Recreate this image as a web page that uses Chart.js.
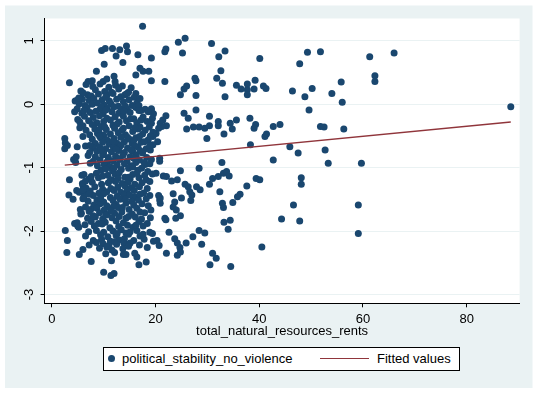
<!DOCTYPE html>
<html>
<head>
<meta charset="utf-8">
<script src="https://cdn.jsdelivr.net/npm/chart.js@4.4.1/dist/chart.umd.min.js"></script>
<style>
  body { margin: 0; background: #fff; }
  #wrap { position: relative; width: 538px; height: 394px; font-family: "Liberation Sans", Arial, sans-serif; }
  #legend { position: absolute; left: 103px; top: 347px; width: 355px; height: 22px; border: 1px solid #000; background: #fff; font-size: 13px; color: #000; }
  #legend span { position: absolute; white-space: nowrap; }
  .dot { left: 4px; top: 7px; width: 7px; height: 7px; border-radius: 50%; background: #1a476f; }
  .lab { top: 0; line-height: 22px; }
  .fit { left: 216px; top: 10px; width: 49px; height: 1.3px; background: #90353b; }
</style>
</head>
<body>
<div id="wrap">
  <canvas id="chart" width="538" height="394"></canvas>
  <div id="legend">
    <span class="dot"></span>
    <span class="lab" style="left:18px">political_stability_no_violence</span>
    <span class="fit"></span>
    <span class="lab" style="left:273px">Fitted values</span>
  </div>
</div>
<script>
// total_natural_resources_rents (x) and political_stability_no_violence (y)
const rents = [
  17.5, 9.6, 10.3, 11.7, 13.1, 14.4, 14.6, 12.4, 16.6, 19.2,
  13.7, 10.1, 8.6, 17.0, 17.6, 18.7, 3.4, 7.0, 7.8, 9.9,
  10.6, 12.0, 12.2, 16.2, 19.2, 21.8, 22.0, 21.8, 24.4, 25.7,
  30.8, 25.2, 33.4, 32.2, 40.1, 32.6, 31.8, 32.9, 27.6, 27.8,
  26.0, 25.5, 24.8, 27.8, 33.4, 35.6, 36.5, 37.7, 37.7, 37.7,
  39.2, 39.0, 40.8, 41.3, 46.4, 49.3, 51.8, 47.8, 61.3, 66.0,
  62.3, 62.3, 55.8, 54.0, 56.0, 50.2, 48.8, 49.6, 44.0, 51.8,
  52.5, 56.3, 45.9, 47.5, 52.7, 53.3, 59.7, 48.1, 48.1, 46.6,
  59.1, 44.3, 47.8, 59.1, 88.5, 22.0, 21.4, 20.9, 22.1, 21.2,
  25.5, 26.3, 27.8, 26.0, 27.3, 28.4, 29.5, 30.4, 30.4, 29.9,
  32.1, 32.1, 33.2, 34.4, 34.8, 35.6, 38.2, 39.3, 39.0, 42.7,
  41.1, 41.4, 38.3, 42.7, 32.8, 28.4, 24.8, 21.5, 22.1, 23.1,
  24.2, 25.7, 26.3, 26.6, 27.0, 26.8, 27.9, 28.6, 30.4, 31.0,
  32.1, 33.1, 33.7, 34.2, 32.4, 36.3, 35.8, 37.6, 39.4, 40.1,
  34.9, 32.9, 33.1, 33.2, 34.4, 34.0, 40.5, 28.4, 29.5, 28.9,
  27.2, 23.7, 24.2, 24.7, 24.2, 25.9, 24.8, 22.1, 31.0, 31.7,
  30.5, 34.5, 21.8, 24.8, 23.4, 23.7, 23.4, 24.0, 20.9, 20.9,
  20.8, 20.8, 20.4, 20.6, 20.1, 19.5, 20.1, 19.4, 19.2, 20.6,
  20.8, 22.0, 19.4, 20.3, 20.7, 23.9, 22.6, 25.0, 2.5, 2.6,
  2.5, 3.0, 2.6, 3.0, 2.9, 3.4, 3.3, 4.1, 5.3, 7.6,
  4.9, 4.2, 4.6, 4.7, 10.0, 11.4, 12.0, 11.5, 13.8, 16.4,
  16.8, 18.2, 5.5, 5.0, 4.4, 5.8, 6.0, 4.8, 5.7, 6.3,
  6.6, 7.9, 9.3, 11.0, 12.3, 13.6, 15.3,
  5.6, 8.4, 10.2, 12.9, 14.8, 16.2,
  4.8, 6.9, 7.6, 9.0, 10.6, 11.8, 13.3, 14.1, 15.9,
  4.5, 5.9, 7.2, 8.1, 9.7, 11.1, 12.5, 13.8, 14.9, 16.4,
  5.3, 6.4, 7.8, 8.8, 10.1, 11.4, 12.8, 15.5,
  4.9, 6.8, 9.3, 10.7, 12.0, 13.4, 14.6, 16.2, 18.0, 19.2,
  4.4, 5.8, 7.4, 8.5, 9.9, 11.6, 12.9, 15.1, 17.2, 19.6,
  6.3, 8.0, 9.2, 10.6, 12.2, 13.8, 15.8, 17.6,
  5.4, 7.1, 8.7, 10.0, 11.3, 13.0, 14.4, 16.4, 18.4, 19.2,
  6.0, 7.8, 9.5, 11.8, 12.6, 14.9, 17.0,
  6.6, 8.3, 9.1, 10.5, 12.1, 13.5, 15.6, 16.6, 18.0, 19.5,
  7.3, 8.8, 10.0, 11.3, 12.8, 14.2, 17.5,
  7.8, 9.4, 10.6, 12.0, 13.3, 15.0, 16.2, 18.6,
  8.4, 9.8, 11.1, 12.5, 14.0, 15.5, 17.2, 19.5,
  6.5, 8.0, 9.2, 10.4, 11.9, 13.2, 14.6, 16.6, 18.2,
  7.3, 8.7, 10.0, 11.5, 12.9, 14.0, 15.6, 17.5, 19.0,
  7.0, 8.4, 9.8, 10.9, 12.3, 13.7, 15.1, 16.3, 18.3,
  8.0, 9.3, 10.6, 11.8, 13.1, 14.5, 16.9, 17.8,
  8.8, 10.1, 11.2, 12.6, 14.0, 15.3, 18.0,
  9.5, 10.4, 11.7, 13.4, 14.8, 16.6, 18.5,
  6.2, 8.6, 10.8, 12.2, 13.0, 15.6, 16.4, 17.9, 19.4,
  7.2, 9.0, 11.6, 12.8, 14.1, 15.1, 16.8, 18.2,
  5.9, 7.8, 9.6, 10.9, 12.3, 13.6, 14.7, 16.0, 17.4,
  6.6, 8.3, 11.4, 12.7, 14.1, 15.3, 16.9, 18.4,
  5.3, 7.4, 9.1, 10.6, 12.0, 13.3, 14.5, 17.7,
  6.2, 8.0, 11.3, 12.6, 13.9, 16.0, 18.9,
  7.0, 8.7, 10.0, 11.8, 13.2, 15.4, 16.7,
  8.1, 9.3, 10.6, 12.4, 14.3, 15.8, 17.4, 18.6,
  7.5, 8.7, 10.1, 11.3, 12.8, 14.9, 16.4, 19.1,
  5.6, 9.2, 10.7, 12.1, 13.5, 15.5, 17.9,
  6.9, 8.4, 9.8, 11.6, 13.0, 14.3, 16.1, 17.3, 19.0,
  4.9, 7.6, 9.0, 10.3, 12.4, 13.8, 16.8, 18.4,
  5.2, 8.2, 11.2, 12.9, 14.6, 15.7, 17.6,
  7.1, 8.6, 10.0, 11.8, 13.4, 15.1, 16.4, 18.9,
  6.5, 9.4, 10.8, 12.4, 14.8, 17.0,
  8.0, 9.6, 11.3, 13.0, 14.0, 15.8, 17.8, 19.6,
  7.2, 9.9, 11.0, 12.5, 13.9, 16.9,
  6.0, 9.2, 11.6, 13.7, 18.4,
  10.4, 12.1, 14.3, 16.0,
  6.0, 11.5, 14.5, 5.2, 10.4, 17.0, 14.2, 16.8, 9.5,
  6.2, 10.4, 13.9, 16.8, 18.6, 5.0, 15.2, 17.2,
  5.4, 10.2, 13.8, 16.0, 18.8, 6.0, 9.2, 14.6, 16.9, 19.0,
  11.8, 15.8, 17.8, 7.3, 13.4, 16.0, 18.9, 9.5, 12.4, 17.0, 15.3,
  12.9, 15.8, 19.2, 7.4, 16.2, 18.9, 12.0, 15.6, 17.3,
  7.6, 9.8, 14.8, 6.5, 11.3, 18.9, 6.0, 9.8, 15.9,
  7.2, 10.0, 15.0, 17.0, 6.0, 9.4, 14.2, 18.2,
  6.5, 11.9, 13.6, 7.2, 11.5, 17.0, 8.0, 10.4, 14.8,
  6.4, 9.7, 16.2, 12.6, 14.3, 17.6, 8.6, 12.1, 15.1, 10.6, 14.8
];
const stability = [
  1.23, 0.85, 0.88, 0.88, 0.86, 0.92, 0.83, 0.76, 0.78, 0.73,
  0.66, 0.63, 0.52, 0.57, 0.52, 0.52, 0.34, 0.36, 0.37, 0.36,
  0.40, 0.44, 0.36, 0.46, 0.37, 0.36, 0.87, 0.83, 0.98, 1.04,
  0.96, 0.81, 0.84, 0.75, 0.72, 0.53, 0.41, 0.33, 0.41, 0.37,
  0.29, 0.24, 0.15, 0.14, 0.12, 0.30, 0.24, 0.23, 0.15, 0.32,
  0.38, 0.24, 0.29, 0.25, 0.21, 0.82, 0.83, 0.64, 0.75, 0.81,
  0.45, 0.36, 0.35, 0.17, 0.03, 0.25, 0.12, -0.09, -0.32, -0.35,
  -0.36, -0.39, -0.67, -0.77, -0.72, -0.93, -0.93, -1.16, -1.26, -1.59,
  -1.59, -1.81, -1.84, -2.04, -0.04, -0.18, -0.25, -0.30, -0.34, -0.35,
  -0.14, -0.22, -0.09, -0.39, -0.36, -0.36, -0.38, -0.34, -0.19, -0.54,
  -0.27, -0.34, -0.47, -0.30, -0.39, -0.25, -0.22, -0.32, -0.38, -0.35,
  -0.51, -0.47, -0.64, -0.88, -0.92, -1.01, -1.05, -1.13, -1.14, -1.21,
  -1.19, -1.26, -1.30, -1.38, -1.43, -1.52, -1.30, -1.35, -1.26, -1.17,
  -1.14, -1.09, -1.06, -1.13, -1.38, -1.42, -1.46, -1.29, -1.17, -1.19,
  -1.55, -1.56, -1.63, -1.86, -1.83, -1.97, -2.25, -1.99, -2.03, -2.21,
  -2.09, -2.12, -2.19, -2.26, -2.38, -2.19, -2.33, -2.35, -2.35, -2.43,
  -2.53, -2.56, -1.80, -1.76, -1.41, -1.54, -1.62, -1.67, -1.48, -1.56,
  -0.85, -0.90, -0.59, -0.38, -1.09, -0.51, -0.46, -0.22, -0.09, -1.44,
  -1.51, -1.82, -2.04, -2.15, -2.23, -1.80, -2.02, -1.48, -0.54, -0.61,
  -0.70, -0.65, -1.99, -2.15, -2.34, -1.19, -1.43, -1.50, -2.37, -2.48,
  -0.67, -0.87, -0.92, -0.83, -2.65, -2.70, -2.67, -2.47, -2.37, -2.41,
  -2.53, -2.49, -1.66, -1.92, -1.88, -1.12, -1.28, -1.36, -1.72, -1.40,
  0.31, 0.28, 0.32, 0.27, 0.30, 0.29, 0.26,
  0.21, 0.23, 0.20, 0.24, 0.19, 0.17,
  0.06, 0.15, 0.13, 0.16, 0.14, 0.17, 0.12, 0.15, 0.11,
  0.05, 0.08, 0.06, 0.09, 0.07, 0.05, 0.08, 0.04, 0.07, 0.02,
  0.01, -0.02, 0.00, 0.02, -0.01, 0.01, -0.03, -0.02,
  -0.07, -0.05, -0.08, -0.06, -0.04, -0.07, -0.09, -0.05, -0.08, -0.07,
  -0.12, -0.14, -0.13, -0.11, -0.15, -0.12, -0.14, -0.13, -0.10, -0.15,
  -0.19, -0.21, -0.18, -0.22, -0.20, -0.19, -0.23, -0.20,
  -0.28, -0.26, -0.29, -0.27, -0.25, -0.28, -0.26, -0.29, -0.27, -0.30,
  -0.34, -0.32, -0.35, -0.33, -0.31, -0.34, -0.36,
  -0.41, -0.39, -0.42, -0.40, -0.38, -0.41, -0.43, -0.39, -0.41, -0.44,
  -0.48, -0.46, -0.49, -0.47, -0.45, -0.48, -0.47,
  -0.55, -0.53, -0.56, -0.54, -0.52, -0.55, -0.53, -0.56,
  -0.62, -0.60, -0.63, -0.61, -0.59, -0.62, -0.60, -0.64,
  -0.66, -0.69, -0.67, -0.70, -0.68, -0.66, -0.69, -0.67, -0.70,
  -0.76, -0.74, -0.77, -0.75, -0.73, -0.76, -0.74, -0.77, -0.72,
  -0.81, -0.83, -0.80, -0.84, -0.82, -0.81, -0.83, -0.80, -0.84,
  -0.90, -0.88, -0.91, -0.89, -0.87, -0.90, -0.88, -0.92,
  -0.97, -0.95, -0.98, -0.96, -0.94, -0.97, -0.95,
  -1.04, -1.02, -1.05, -1.03, -1.01, -1.04, -1.06,
  -1.11, -1.09, -1.12, -1.10, -1.08, -1.11, -1.09, -1.12, -1.10,
  -1.18, -1.16, -1.19, -1.17, -1.15, -1.18, -1.16, -1.19,
  -1.25, -1.23, -1.26, -1.24, -1.22, -1.25, -1.23, -1.26, -1.24,
  -1.32, -1.30, -1.33, -1.31, -1.29, -1.32, -1.30, -1.33,
  -1.39, -1.37, -1.40, -1.38, -1.36, -1.39, -1.37, -1.40,
  -1.46, -1.44, -1.47, -1.45, -1.43, -1.46, -1.44,
  -1.53, -1.51, -1.54, -1.52, -1.50, -1.53, -1.51,
  -1.59, -1.57, -1.60, -1.58, -1.56, -1.59, -1.57, -1.60,
  -1.66, -1.64, -1.67, -1.65, -1.63, -1.66, -1.64, -1.67,
  -1.73, -1.71, -1.74, -1.72, -1.70, -1.73, -1.71,
  -1.80, -1.78, -1.81, -1.79, -1.77, -1.80, -1.78, -1.81, -1.79,
  -1.87, -1.85, -1.88, -1.86, -1.84, -1.87, -1.85, -1.88,
  -1.94, -1.92, -1.95, -1.93, -1.91, -1.94, -1.92,
  -2.01, -1.99, -2.02, -2.00, -1.98, -2.01, -1.99, -2.02,
  -2.08, -2.06, -2.09, -2.07, -2.05, -2.08,
  -2.15, -2.13, -2.16, -2.14, -2.12, -2.15, -2.13, -2.16,
  -2.22, -2.20, -2.23, -2.21, -2.19, -2.22,
  -2.29, -2.27, -2.30, -2.28, -2.26,
  -2.36, -2.34, -2.37, -2.35,
  0.18, 0.19, 0.17, 0.10, 0.11, 0.09, -0.03, -0.02, -0.04,
  -0.10, -0.09, -0.11, -0.10, -0.12, -0.24, -0.23, -0.25,
  -0.37, -0.36, -0.38, -0.37, -0.36, -0.51, -0.50, -0.52, -0.51, -0.50,
  -0.58, -0.57, -0.59, -0.65, -0.64, -0.66, -0.65, -0.72, -0.71, -0.73, -0.72,
  -0.86, -0.85, -0.87, -0.93, -0.92, -0.94, -1.00, -0.99, -1.01,
  -1.14, -1.13, -1.15, -1.21, -1.20, -1.22, -1.35, -1.34, -1.36,
  -1.42, -1.41, -1.43, -1.42, -1.49, -1.48, -1.50, -1.49,
  -1.62, -1.61, -1.63, -1.69, -1.68, -1.70, -1.76, -1.75, -1.77,
  -1.90, -1.89, -1.91, -2.04, -2.03, -2.05, -2.18, -2.17, -2.19, -2.25, -2.24
];
// fitted regression line, read at its two ends
const fittedX = [2.5, 88.5];
const fittedY = [-0.96, -0.28];

const xTicks = [0, 20, 40, 60, 80];
const yTicks = [-3, -2, -1, 0, 1];

Chart.defaults.font.family = "'Liberation Sans', Arial, sans-serif";
Chart.defaults.font.size = 13;
Chart.defaults.color = '#000';

const background = {
  id: 'background',
  beforeDraw(chart) {
    const { ctx, chartArea: a } = chart;
    ctx.save();
    ctx.fillStyle = '#fff';
    ctx.fillRect(0, 0, chart.width, chart.height);
    ctx.fillStyle = '#eaf2f3';
    ctx.fillRect(5, 5.5, 527.5, 382.5);
    ctx.fillStyle = '#fff';
    ctx.fillRect(a.left, a.top, a.right - a.left, a.bottom - a.top);
    ctx.restore();
  }
};

const points = rents.map((x, i) => ({ x: x, y: stability[i] }));
const fitted = fittedX.map((x, i) => ({ x: x, y: fittedY[i] }));

new Chart(document.getElementById('chart'), {
  type: 'scatter',
  data: {
    datasets: [
      {
        label: 'political_stability_no_violence',
        data: points,
        backgroundColor: '#1a476f',
        borderWidth: 0,
        pointRadius: 3.5,
        order: 2
      },
      {
        type: 'line',
        label: 'Fitted values',
        data: fitted,
        borderColor: '#90353b',
        borderWidth: 1.3,
        pointRadius: 0,
        fill: false,
        order: 1
      }
    ]
  },
  options: {
    responsive: false,
    animation: false,
    devicePixelRatio: 1,
    layout: { padding: { top: 18.5, right: 18.4, left: 0, bottom: 54.5 } },
    plugins: { legend: { display: false }, tooltip: { enabled: false } },
    scales: {
      x: {
        type: 'linear',
        min: -1.39,
        max: 90.2,
        afterBuildTicks: s => { s.ticks = xTicks.map(v => ({ value: v })); },
        afterFit: s => { s.height = 36.2; },
        ticks: { padding: 4, maxRotation: 0, color: '#000' },
        grid: { drawOnChartArea: false, tickLength: 4, tickColor: '#000' },
        border: { color: '#000', width: 1 },
        title: { display: true, text: 'total_natural_resources_rents', color: '#000', padding: 0 }
      },
      y: {
        type: 'linear',
        min: -3.14,
        max: 1.353,
        afterBuildTicks: s => { s.ticks = yTicks.map(v => ({ value: v })); },
        afterFit: s => { s.width = 44.6; },
        ticks: { padding: 5, minRotation: 90, maxRotation: 90, crossAlign: 'center', color: '#000' },
        grid: { color: '#eaf2f3', lineWidth: 1, tickLength: 4, tickColor: '#000' },
        border: { color: '#000', width: 1 }
      }
    }
  },
  plugins: [background]
});
</script>
</body>
</html>
